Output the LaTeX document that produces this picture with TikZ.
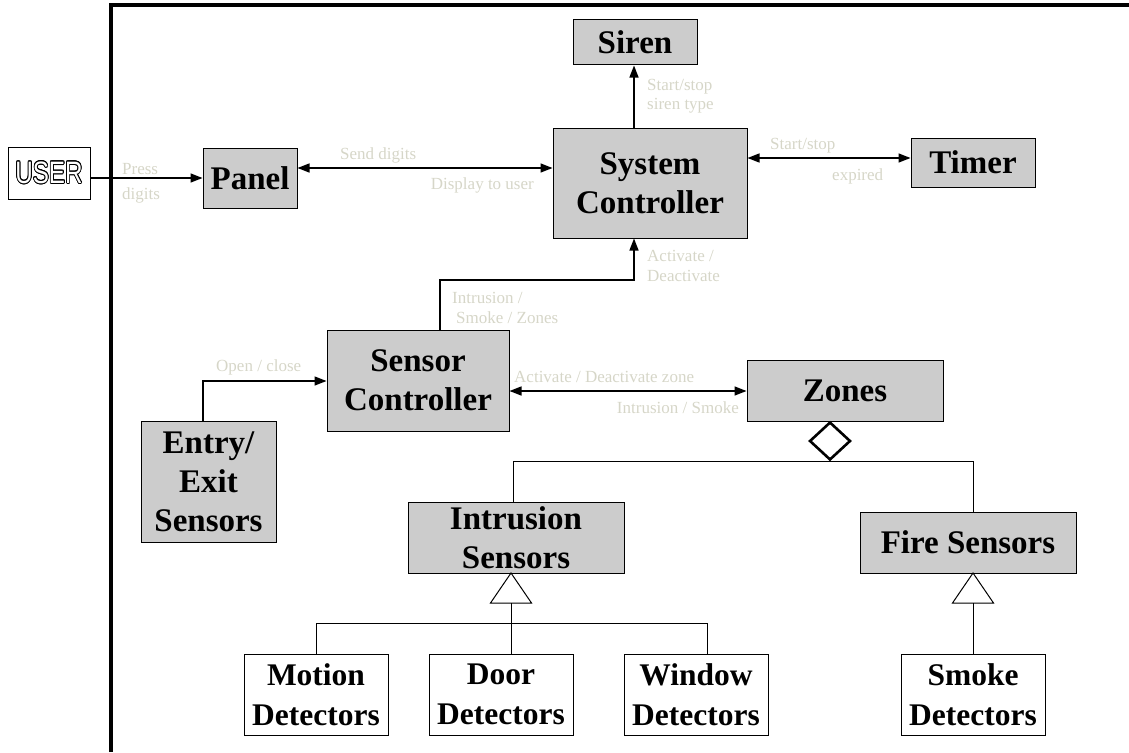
\documentclass[tikz,border=0pt]{standalone}
\usepackage{fontspec}
\setmainfont{Liberation Serif}
\newfontfamily\usersans{Liberation Sans}
\usepackage{contour}
\contourlength{1.1pt}
\usetikzlibrary{arrows.meta,shapes.geometric}
\definecolor{boxgray}{RGB}{204,204,204}
\definecolor{labelgray}{RGB}{214,214,200}
\tikzset{
  unit/.style={x=1pt,y=-1pt},
  gbox/.style={draw=black,line width=1pt,fill=boxgray,inner sep=0pt,align=center,
    font=\bfseries\fontsize{33}{39}\selectfont},
  wbox/.style={draw=black,line width=1pt,fill=white,inner sep=0pt,align=center,
    font=\bfseries\fontsize{31.5}{40}\selectfont},
  flow/.style={line width=1.4pt,-{Triangle[length=12pt,width=9pt]}},
  bothflow/.style={line width=1.4pt,{Triangle[length=12pt,width=9pt]}-{Triangle[length=12pt,width=9pt]}},
  plain/.style={line width=1pt},
  msg/.style={text=labelgray,inner sep=0pt,text height=12pt,text depth=4pt,
    font=\fontsize{17}{19}\selectfont},
  inherit/.style={draw=black,line width=1pt,fill=white},
}
\begin{document}
\begin{tikzpicture}[unit]
\useasboundingbox (0,0) rectangle (1129,752);

% system boundary
\draw[line width=3.5pt] (111,752) -- (111,5) -- (1129,5);

% actor outside the boundary
\node[draw=black,line width=1pt,fill=white,minimum width=82pt,minimum height=52pt,inner sep=0pt]
  (user) at (49,173) {\usersans\fontsize{31}{31}\selectfont\scalebox{0.78}[1]{\color{white}\contour{black}{USER}}};

% components
\node[gbox,minimum width=94pt,minimum height=60pt] (panel) at (250,178) {Panel};
\node[gbox,minimum width=194pt,minimum height=110pt] (sysc) at (650,183) {System\\Controller};
\node[gbox,minimum width=124pt,minimum height=45pt] (siren) at (635,42.5) {Siren};
\node[gbox,minimum width=124pt,minimum height=49pt] (timer) at (973,162.5) {Timer};
\node[gbox,minimum width=182pt,minimum height=101pt] (sensc) at (418,380.5) {Sensor\\Controller};
\node[gbox,minimum width=196pt,minimum height=61pt] (zones) at (845,390.5) {Zones};
\node[gbox,minimum width=135pt,minimum height=121pt] (entry) at (208.5,481.5) {Entry/\\Exit\\Sensors};
\node[gbox,minimum width=216pt,minimum height=71pt] (intr) at (516,537.5) {Intrusion\\Sensors};
\node[gbox,minimum width=216pt,minimum height=61pt] (fire) at (968,542.5) {Fire Sensors};

\node[wbox,minimum width=144pt,minimum height=81pt] (motion) at (316,694.5) {Motion\\Detectors};
\node[wbox,minimum width=144pt,minimum height=81pt] (door) at (501,694.5) {Door\\Detectors};
\node[wbox,minimum width=144pt,minimum height=81pt] (window) at (696,694.5) {Window\\Detectors};
\node[wbox,minimum width=144pt,minimum height=81pt] (smoke) at (973,694.5) {Smoke\\Detectors};

% message flows
\draw[flow] (user.east |- panel.west) -- (panel.west);
\node[msg,anchor=west] (lpress) at (122,170) {Press};
\node[msg,anchor=west] (ldigits) at (122,195) {digits};

\draw[bothflow] (panel.east |- 0,168) -- (sysc.west |- 0,168);
\node[msg,anchor=west] (lsend) at (340,155) {Send digits};
\node[msg,anchor=east] (ldisp) at (534,185) {Display to user};

\draw[flow] (sysc.north -| 634,0) -- (siren.south -| 634,0);
\node[msg,anchor=west] (lsiren1) at (647,86) {Start/stop};
\node[msg,anchor=west] (lsiren2) at (647,105) {siren type};

\draw[bothflow] (sysc.east |- 0,158) -- (timer.west |- 0,158);
\node[msg,anchor=west] (ltimer1) at (770,145) {Start/stop};
\node[msg,anchor=west] (ltimer2) at (832,176) {expired};

\coordinate (bend1) at (440,280);
\draw[flow] (sensc.north -| bend1) -- (bend1) -| (sysc.south -| 634,0);
\node[msg,anchor=west] (lact1) at (647,257) {Activate /};
\node[msg,anchor=west] (lact2) at (647,277) {Deactivate};
\node[msg,anchor=west] (lintr1) at (452,299) {Intrusion /};
\node[msg,anchor=west] (lintr2) at (456,319) {Smoke / Zones};

\coordinate (bend2) at (203,381);
\draw[flow] (entry.north -| bend2) -- (bend2) -- (sensc.west |- bend2);
\node[msg,anchor=west] (lopen) at (216,367) {Open / close};

\draw[bothflow] (sensc.east |- 0,391) -- (zones.west |- 0,391);
\node[msg,anchor=west] (lzone1) at (514,378) {Activate / Deactivate zone};
\node[msg,anchor=east] (lzone2) at (739,409) {Intrusion / Smoke};

% aggregation: zones own the sensor groups
\node[diamond,draw=black,line width=2.6pt,fill=white,inner sep=0pt,
  minimum width=41pt,minimum height=38pt] (agg) at (830,441) {};
\draw[plain] (intr.north -| 513,0) |- (agg.south) -| (fire.north -| 973,0);

% generalisation: intrusion sensors
\coordinate (iapex) at (511,573);
\coordinate (ibase) at (511,603);
\coordinate (ijoin) at (511,623);
\draw[inherit] (iapex) -- (490.5,603) -- (531.5,603) -- cycle;
\draw[plain] (ibase) -- (ijoin);
\draw[plain] (motion.north) |- (ijoin);
\draw[plain] (window.north -| 707,0) |- (ijoin);
\draw[plain] (door.north -| ijoin) -- (ijoin);

% generalisation: fire sensors
\coordinate (fapex) at (973,573);
\coordinate (fbase) at (973,603);
\draw[inherit] (fapex) -- (952.5,603) -- (993.5,603) -- cycle;
\draw[plain] (fbase) -- (smoke.north);
\end{tikzpicture}
\end{document}
